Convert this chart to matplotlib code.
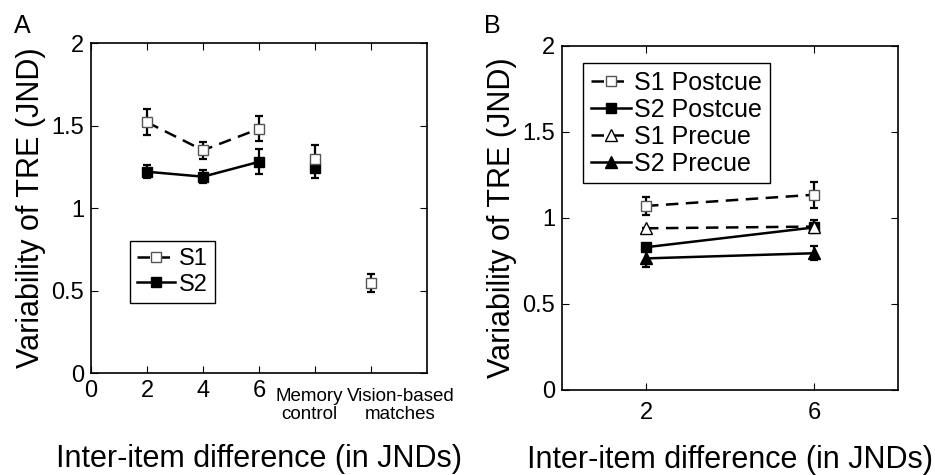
"""
Variability of TRE vs inter-item difference, two panels (A: S1/S2, B: postcue/precue)
"""

import matplotlib
matplotlib.use("Agg")
import matplotlib.pyplot as plt

plt.rcParams['font.family'] = ['Liberation Sans', 'DejaVu Sans']

# ==================== Panel A data ====================
a_x = [2, 4, 6]
a_s1 = [1.52, 1.35, 1.48]
a_s1_err = [0.08, 0.05, 0.075]
a_s2 = [1.22, 1.19, 1.28]
a_s2_err = [0.04, 0.04, 0.075]

mem_x = 8
mem_s1, mem_s1_err = 1.30, 0.08
mem_s2, mem_s2_err = 1.24, 0.06
vis_x = 10
vis_s1, vis_s1_err = 0.545, 0.055

a_ticks = [0, 2, 4, 6, 8, 10]
a_ticklabels = ["0", "2", "4", "6", "", ""]
cond_labels = ["Memory\ncontrol", "Vision-based\nmatches"]
cond_label_x = [7.8, 11.05]

# ==================== Panel B data ====================
b_x = [2, 6]
s1_post = [1.07, 1.135]
s1_post_err = [0.05, 0.075]
s2_post = [0.83, 0.945]
s2_post_err = [0.02, 0.02]
s1_pre = [0.94, 0.95]
s1_pre_err = [0.0, 0.04]
s2_pre = [0.765, 0.795]
s2_pre_err = [0.05, 0.04]

yticks = [0, 0.5, 1, 1.5, 2]
yticklabels = ["0", "0.5", "1", "1.5", "2"]

# ========================================================================================

fig = plt.figure(figsize=(9.35, 4.75), dpi=100)
axA = fig.add_axes([0.0973, 0.2147, 0.3594, 0.6947])
axB = fig.add_axes([0.601, 0.179, 0.3594, 0.7242])

DASH = (0, (5, 3))
eb = dict(fmt="none", ecolor="black", elinewidth=1.6, capsize=3, capthick=1.6)
open_sq = dict(marker="s", mfc="white", mec="#555555", ms=7.5, mew=1.0)
fill_sq = dict(marker="s", mfc="black", mec="black", ms=7.5)
open_tri = dict(marker="^", mfc="white", mec="black", ms=8.5, mew=1.0)
fill_tri = dict(marker="^", mfc="black", mec="black", ms=8.5)


def series(ax, x, y, err, ls, style, label=None):
    ax.errorbar(x, y, yerr=err, **eb)
    ax.plot(x, y, color="black", ls=ls, lw=1.8, label=label, **style)


# Panel A
series(axA, a_x, a_s1, a_s1_err, DASH, open_sq, "S1")
series(axA, a_x, a_s2, a_s2_err, "-", fill_sq, "S2")
series(axA, [mem_x], [mem_s2], [mem_s2_err], "none", fill_sq)
series(axA, [mem_x], [mem_s1], [mem_s1_err], "none", open_sq)
series(axA, [vis_x], [vis_s1], [vis_s1_err], "none", open_sq)

axA.set_xlim(0, 12)
axA.set_xticks(a_ticks)
axA.set_xticklabels(a_ticklabels)
for lab, lx in zip(cond_labels, cond_label_x):
    axA.text(lx, -0.045, lab, transform=axA.get_xaxis_transform(), ha="center", va="top",
             fontsize=13.5, linespacing=1.1)
axA.legend(loc="upper left", bbox_to_anchor=(0.117, 0.40), fontsize=17, handlelength=1.6,
           handletextpad=0.15, borderpad=0.3, labelspacing=0.15, fancybox=False,
           edgecolor="black", framealpha=1, borderaxespad=0)
axA.xaxis.set_label_coords(0.476, -0.215)

# Panel B
series(axB, b_x, s1_post, s1_post_err, DASH, open_sq, "S1 Postcue")
series(axB, b_x, s2_post, s2_post_err, "-", fill_sq, "S2 Postcue")
series(axB, b_x, s1_pre, s1_pre_err, DASH, open_tri, "S1 Precue")
series(axB, b_x, s2_pre, s2_pre_err, "-", fill_tri, "S2 Precue")

axB.set_xlim(0, 8)
axB.set_xticks(b_x)
axB.set_xticklabels(["2", "6"])
axB.legend(loc="upper left", bbox_to_anchor=(0.063, 0.95), fontsize=18, handlelength=1.6,
           handletextpad=0.15, borderpad=0.3, labelspacing=0.12, fancybox=False,
           edgecolor="black", framealpha=1, borderaxespad=0)
axB.xaxis.set_label_coords(0.488, -0.16)

for ax in (axA, axB):
    ax.set_ylim(0, 2)
    ax.set_yticks(yticks)
    ax.set_yticklabels(yticklabels)
    ax.tick_params(direction="in", top=True, right=True, length=5, width=0.8,
                   labelsize=17, pad=5)
    for s in ax.spines.values():
        s.set_linewidth(1.2)
    ax.set_ylabel("Variability of TRE (JND)", fontsize=22, labelpad=4)
    ax.set_xlabel("Inter-item difference (in JNDs)", fontsize=22)
axB.tick_params(axis="x", pad=9)

fig.text(0.015, 0.97, "A", fontsize=18, va="top")
fig.text(0.518, 0.97, "B", fontsize=18, va="top")

fig.savefig("out.png", dpi=100)
